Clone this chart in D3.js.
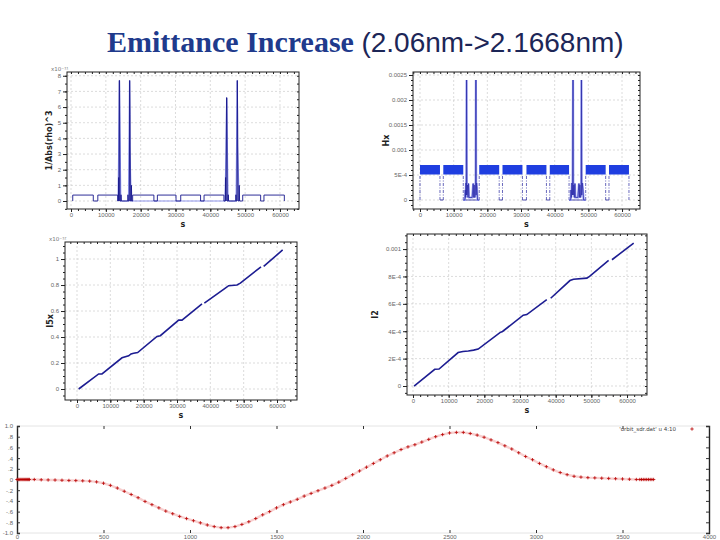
<!DOCTYPE html>
<html>
<head>
<meta charset="utf-8">
<style>
body { margin: 0; background: #fff; }
svg { display: block; font-family: "DejaVu Sans", sans-serif; }
.tick text { fill: #666; font-size: 6px; }
.lab { font-size: 8px; font-weight: bold; fill: #222; }
</style>
</head>
<body>
<script src="https://d3js.org/d3.v7.min.js"></script>
<script>
const W = 720, H = 540;

// shared s ticks for the four lattice plots
const sTicks = [0, 10000, 20000, 30000, 40000, 50000, 60000];
const sTickLabels = ["0", "10000", "20000", "30000", "40000", "50000", "60000"];

// 1/Abs(rho)^3 along s (x10^-11)
const rhoS = [500, 500, 6400, 6400, 7700, 7700, 13400, 13400, 13600, 13700, 13800, 13850, 13950, 14050, 14300, 14350, 14450, 16300, 16350, 16450, 16750, 16850, 16950, 17050, 17250, 17350, 17450, 17700, 17700, 23800, 23800, 24800, 24800, 30150, 30150, 31500, 31500, 37200, 37200, 38200, 38200, 43900, 43900, 44300, 44400, 44500, 44650, 44750, 44850, 45100, 45150, 45250, 47300, 47350, 47450, 47650, 47750, 47850, 47950, 48200, 48300, 48400, 49300, 49300, 54450, 54450, 55400, 55400, 61250, 61250];
const rhoV = [0, 0.38, 0.38, 0, 0, 0.38, 0.38, 0, 0, 1.5, 0, 7.7, 7.7, 0, 0, 0.4, 0, 0, 0.4, 0, 0, 7.7, 5.5, 0, 0, 1.0, 0, 0, 0.38, 0.38, 0, 0, 0.38, 0.38, 0, 0, 0.38, 0.38, 0, 0, 0.38, 0.38, 0, 0, 1.5, 0, 6.6, 6.6, 0, 0, 0.4, 0, 0, 0.4, 0, 0, 7.7, 5.5, 0, 0, 1.0, 0, 0, 0.38, 0.38, 0, 0, 0.38, 0.38, 0];
// the lighter, wider spike trace
const rhoHaloS = [13500, 13700, 13900, 14300, 16500, 16800, 16900, 17300, 44200, 44500, 44700, 45100, 47400, 47700, 47800, 48300];
const rhoHaloV = [0, 3.5, 7.7, 0, 0, 7.7, 3.5, 0, 0, 3.0, 6.6, 0, 0, 7.7, 3.5, 0];
const rhoTicks = [0, 1, 2, 3, 4, 5, 6, 7, 8];

// Hx along s
const hxBandStart = [0, 6920, 17590, 24500, 31620, 38540, 49210, 56130];
const hxBandEnd = [5930, 12850, 23520, 30430, 37550, 44270, 55140, 62060];
const hxBandLow = 0.00051, hxBandHigh = 0.0007;
const hxSpikeS = [12850, 13350, 13450, 13550, 13650, 13750, 13830, 13910, 14100, 14250, 14400, 14550, 15500, 15800, 15950, 16100, 16250, 16400, 16520, 16600, 16680, 16800, 16950, 17100, 17590];
const hxSpikeV = [0, 0, 0.0002, 0.00005, 0.00034, 0.0001, 0.0024, 0.0001, 0.0003, 0.00005, 0.00033, 0.00005, 0.00005, 0.00033, 0.00005, 0.0003, 0.00005, 0.0001, 0.00034, 0.0024, 0.0001, 0.00034, 0.0002, 0, 0];
const hxSpike2S = [44270, 44750, 44850, 44950, 45100, 45300, 45450, 45530, 45700, 45850, 46000, 46150, 46900, 47200, 47350, 47500, 47650, 47800, 47880, 47950, 48030, 48200, 48400, 48600, 49210];
const hxSpike2V = [0, 0, 0.0002, 0.00005, 0.00034, 0.0001, 0.0024, 0.0001, 0.0003, 0.00005, 0.00033, 0.00005, 0.00005, 0.00033, 0.00005, 0.0003, 0.00005, 0.0001, 0.00034, 0.0024, 0.0001, 0.00034, 0.0002, 0, 0];
const hxTicks = [0, 0.0005, 0.001, 0.0015, 0.002, 0.0025];
const hxTickLabels = ["0", "5E-4", "0.001", "0.0015", "0.002", "0.0025"];

// I5x running integral (x10^-12), null = gap in the trace
const i5S = [500, 6500, 7500, 13500, 15500, 16200, 17000, 18200, 24000, 25000, 30500, 31500, 37500, null, 38200, 44500, 45500, 48000, 49000, 55200, null, 56000, 61700];
const i5V = [0, 0.116, 0.116, 0.24, 0.255, 0.27, 0.275, 0.28, 0.404, 0.41, 0.53, 0.53, 0.655, null, 0.66, 0.776, 0.795, 0.80, 0.815, 0.94, null, 0.943, 1.07];
const i5Ticks = [0, 0.2, 0.4, 0.6, 0.8, 1];
const i5TickLabels = ["0", "0.2", "0.4", "0.6", "0.8", "1"];

// I2 running integral
const i2S = [300, 6100, 7300, 12650, 14000, 15500, 17000, 18280, 24370, 25100, 30900, 31900, 37500, null, 38600, 44000, 45000, 48750, 49500, 54840, null, 55780, 61870];
const i2V = [0, 0.000122, 0.000124, 0.000244, 0.000252, 0.000256, 0.000262, 0.00027, 0.00039, 0.000398, 0.000517, 0.000522, 0.00063, null, 0.000641, 0.00077, 0.00078, 0.000788, 0.0008, 0.000917, null, 0.000922, 0.001044];
const i2Ticks = [0, 0.0002, 0.0004, 0.0006, 0.0008, 0.001];
const i2TickLabels = ["0", "2E-4", "4E-4", "6E-4", "8E-4", "0.001"];

// orbit_sdr.dat u 4:10
const orbitS = [0, 6, 12, 18, 24, 30, 36, 42, 48, 54, 60, 66, 72, 100,
  140, 180, 220, 260, 300, 340, 380, 420, 460, 500, 540, 580, 620, 660, 700, 740, 780, 820, 860, 900,
  940, 980, 1020, 1060, 1100, 1140, 1180, 1220, 1260, 1300, 1340, 1380, 1420, 1460, 1500, 1540, 1580,
  1620, 1660, 1700, 1740, 1780, 1820, 1860, 1900, 1940, 1980, 2020, 2060, 2100, 2140, 2180, 2220, 2260,
  2300, 2340, 2380, 2420, 2460, 2500, 2540, 2580, 2620, 2660, 2700, 2740, 2780, 2820, 2860, 2900, 2940,
  2980, 3020, 3060, 3100, 3140, 3180, 3220, 3260, 3300, 3340, 3380, 3420, 3460, 3500, 3540, 3580,
  3600, 3610, 3620, 3630, 3640, 3650, 3660, 3670, 3680];
const orbitY = [0, 0, 0, 0, 0, 0, 0, 0, 0, 0, 0, 0, 0, 0,
  -0.005, -0.008, -0.01, -0.014, -0.018, -0.02, -0.025, -0.03, -0.045, -0.07, -0.11, -0.16, -0.22, -0.28, -0.34, -0.41, -0.47, -0.53, -0.59, -0.64,
  -0.69, -0.73, -0.77, -0.81, -0.85, -0.88, -0.9, -0.9, -0.88, -0.84, -0.79, -0.73, -0.66, -0.6, -0.53, -0.47, -0.42,
  -0.37, -0.31, -0.26, -0.21, -0.16, -0.11, -0.05, 0.02, 0.09, 0.16, 0.23, 0.3, 0.37, 0.44, 0.5, 0.56, 0.61,
  0.65, 0.7, 0.75, 0.8, 0.84, 0.87, 0.88, 0.88, 0.86, 0.83, 0.79, 0.74, 0.69, 0.63, 0.57, 0.5, 0.43,
  0.37, 0.3, 0.24, 0.18, 0.13, 0.09, 0.06, 0.045, 0.035, 0.03, 0.025, 0.02, 0.015, 0.01, 0.005, 0,
  0, 0, 0, 0, 0, 0, 0, 0, 0];
const orbitXTicks = [0, 500, 1000, 1500, 2000, 2500, 3000, 3500, 4000];
const orbitYTicks = [1, 0.8, 0.6, 0.4, 0.2, 0, -0.2, -0.4, -0.6, -0.8, -1];
const orbitYTickLabels = ["1.0", ".8", ".6", ".4", ".2", "0", "-.2", "-.4", "-.6", "-.8", "-1.0"];

const svg = d3.select("body").append("svg")
  .attr("width", W)
  .attr("height", H);

// title
const title = svg.append("text").attr("x", 107).attr("y", 52);
title.append("tspan")
  .attr("font-family", "Liberation Serif, serif")
  .attr("font-weight", "bold")
  .attr("font-size", 30)
  .attr("fill", "#203a8c")
  .text("Emittance Increase ");
title.append("tspan")
  .attr("font-family", "Liberation Sans, sans-serif")
  .attr("font-size", 28)
  .attr("fill", "#1c2657")
  .text("(2.06nm->2.1668nm)");

function drawPanel(p) {
  const x = d3.scaleLinear().domain(p.xDomain).range([p.left, p.right]);
  const y = d3.scaleLinear().domain(p.yDomain).range([p.bottom, p.top]);
  const g = svg.append("g");

  g.selectAll(".vg").data(p.xTicks).join("line")
    .attr("x1", d => x(d)).attr("x2", d => x(d))
    .attr("y1", p.top).attr("y2", p.bottom)
    .attr("stroke", "#c4c4c4").attr("stroke-width", 0.6).attr("stroke-dasharray", "2,2");
  g.selectAll(".hg").data(p.yTicks).join("line")
    .attr("x1", p.left).attr("x2", p.right)
    .attr("y1", d => y(d)).attr("y2", d => y(d))
    .attr("stroke", "#c4c4c4").attr("stroke-width", 0.6).attr("stroke-dasharray", "2,2");

  const inX = d3.range(-10000, 70000, 2000).filter(d => d > p.xDomain[0] && d < p.xDomain[1]);
  const inY = d3.range(p.yDomain[0] - p.yMinor, p.yDomain[1], p.yMinor)
    .map(d => Math.round(d / p.yMinor) * p.yMinor)
    .filter(d => d > p.yDomain[0] && d < p.yDomain[1]);
  const clean = sel => sel.select(".domain").remove();

  g.append("g").attr("transform", `translate(0,${p.bottom})`)
    .call(d3.axisBottom(x).tickValues(inX).tickSize(2).tickFormat("")).call(clean);
  g.append("g").attr("transform", `translate(0,${p.bottom})`)
    .call(d3.axisBottom(x).tickValues(p.xTicks).tickSize(3).tickPadding(1)
      .tickFormat((d, i) => p.xLabels[i])).call(clean);
  g.append("g").attr("transform", `translate(${p.left},0)`)
    .call(d3.axisLeft(y).tickValues(inY).tickSize(2).tickFormat("")).call(clean);
  g.append("g").attr("transform", `translate(${p.left},0)`)
    .call(d3.axisLeft(y).tickValues(p.yTicks).tickSize(4).tickPadding(2)
      .tickFormat((d, i) => p.yLabels[i])).call(clean);
  g.append("g").attr("transform", `translate(0,${p.top})`)
    .call(d3.axisTop(x).tickValues(inX).tickSize(-2).tickFormat("")).call(clean);
  g.append("g").attr("transform", `translate(${p.right},0)`)
    .call(d3.axisRight(y).tickValues(inY).tickSize(-2).tickFormat("")).call(clean);
  g.selectAll(".tick line").attr("stroke", "#222");

  g.append("rect")
    .attr("x", p.left).attr("y", p.top)
    .attr("width", p.right - p.left).attr("height", p.bottom - p.top)
    .attr("fill", "none").attr("stroke", "#222").attr("stroke-width", 1);

  g.append("text").attr("class", "lab")
    .attr("x", (p.left + p.right) / 2).attr("y", p.bottom + 18)
    .attr("text-anchor", "middle").text("s");
  g.append("text").attr("class", "lab")
    .attr("transform", `translate(${p.yLabelX},${(p.top + p.bottom) / 2}) rotate(-90)`)
    .attr("text-anchor", "middle").text(p.yTitle);
  if (p.expo) {
    g.append("text").attr("x", p.left - 16).attr("y", p.top - 1)
      .attr("font-size", 5.5).attr("fill", "#777").text(p.expo);
  }
  return { x, y, g };
}

function linePath(x, y, S, V) {
  return d3.line()
    .defined(i => S[i] !== null)
    .x(i => x(S[i]))
    .y(i => y(V[i]))(d3.range(S.length));
}

// panel 1: 1/Abs(rho)^3
const pA = drawPanel({
  left: 67, right: 299, top: 72, bottom: 209,
  xDomain: [-1150, 65460], yDomain: [-0.51, 8.24],
  xTicks: sTicks, xLabels: sTickLabels,
  yTicks: rhoTicks, yLabels: rhoTicks.map(String), yMinor: 0.5,
  yTitle: "1/Abs(rho)^3", yLabelX: 52, expo: "x10\u207B\u00B9\u00B9"
});
pA.g.append("path").attr("d", linePath(pA.x, pA.y, rhoHaloS, rhoHaloV))
  .attr("fill", "#b8bdf4").attr("fill-opacity", 0.6)
  .attr("stroke", "#8f96ec").attr("stroke-width", 1.2);
pA.g.append("path").attr("d", linePath(pA.x, pA.y, rhoS, rhoV))
  .attr("fill", "none").attr("stroke", "#17178c").attr("stroke-width", 0.9);

// panel 2: Hx
const pB = drawPanel({
  left: 413, right: 640, top: 72, bottom: 209,
  xDomain: [-2080, 65340], yDomain: [-0.00018, 0.00256],
  xTicks: sTicks, xLabels: sTickLabels,
  yTicks: hxTicks, yLabels: hxTickLabels, yMinor: 0.0001,
  yTitle: "Hx", yLabelX: 389
});
const bandIdx = d3.range(hxBandStart.length);
// zero-level trace between the dispersion blocks
pB.g.selectAll(".gap").data(bandIdx.slice(0, -1)).join("line")
  .attr("x1", i => pB.x(hxBandEnd[i])).attr("x2", i => pB.x(hxBandStart[i + 1]))
  .attr("y1", pB.y(0)).attr("y2", pB.y(0))
  .attr("stroke", "#22229a").attr("stroke-width", 0.8);
pB.g.selectAll(".edge").data(bandIdx.flatMap(i => [hxBandStart[i], hxBandEnd[i]])).join("line")
  .attr("x1", d => pB.x(d)).attr("x2", d => pB.x(d))
  .attr("y1", pB.y(0)).attr("y2", pB.y(hxBandLow))
  .attr("stroke", "#2a2aa0").attr("stroke-width", 0.7).attr("stroke-dasharray", "3,1.5,1,1.5");
pB.g.selectAll(".band").data(bandIdx).join("rect")
  .attr("x", i => pB.x(hxBandStart[i]))
  .attr("width", i => pB.x(hxBandEnd[i]) - pB.x(hxBandStart[i]))
  .attr("y", pB.y(hxBandHigh))
  .attr("height", pB.y(hxBandLow) - pB.y(hxBandHigh))
  .attr("fill", "#1f3ee0");
[[hxSpikeS, hxSpikeV], [hxSpike2S, hxSpike2V]].forEach(([S, V]) => {
  pB.g.append("path").attr("d", linePath(pB.x, pB.y, S, V))
    .attr("fill", "none").attr("stroke", "#9aa0f0").attr("stroke-width", 2.2);
  pB.g.append("path").attr("d", linePath(pB.x, pB.y, S, V))
    .attr("fill", "none").attr("stroke", "#2a2aa8").attr("stroke-width", 0.7);
});

// panel 3: I5x
const pC = drawPanel({
  left: 65, right: 297, top: 242, bottom: 400,
  xDomain: [-3600, 66000], yDomain: [-0.0846, 1.131],
  xTicks: sTicks, xLabels: sTickLabels,
  yTicks: i5Ticks, yLabels: i5TickLabels, yMinor: 0.05,
  yTitle: "I5x", yLabelX: 53, expo: "x10\u207B\u00B9\u00B2"
});
pC.g.append("path").attr("d", linePath(pC.x, pC.y, i5S, i5V))
  .attr("fill", "none").attr("stroke", "#1d1d92").attr("stroke-width", 1.6);

// panel 4: I2
const pD = drawPanel({
  left: 407, right: 647, top: 234, bottom: 395,
  xDomain: [-1680, 65600], yDomain: [-0.0000657, 0.00111],
  xTicks: sTicks, xLabels: sTickLabels,
  yTicks: i2Ticks, yLabels: i2TickLabels, yMinor: 0.00005,
  yTitle: "I2", yLabelX: 378
});
pD.g.append("path").attr("d", linePath(pD.x, pD.y, i2S, i2V))
  .attr("fill", "none").attr("stroke", "#1d1d92").attr("stroke-width", 1.6);

// panel 5: orbit
const oL = 17, oR = 709, oT = 426, oB = 533;
const ox = d3.scaleLinear().domain([0, 4000]).range([oL, oR]);
const oy = d3.scaleLinear().domain([-1, 1]).range([oB, oT]);
const og = svg.append("g");
og.append("line").attr("x1", oL).attr("x2", oR).attr("y1", oT).attr("y2", oT)
  .attr("stroke", "#ddd").attr("stroke-width", 0.8);
og.append("line").attr("x1", oL).attr("x2", oR).attr("y1", oB).attr("y2", oB)
  .attr("stroke", "#ddd").attr("stroke-width", 0.8);
og.append("g").attr("transform", `translate(${oL},0)`)
  .call(d3.axisLeft(oy).tickValues(orbitYTicks).tickSize(-3).tickPadding(4)
    .tickFormat((d, i) => orbitYTickLabels[i]))
  .call(s => s.select(".domain").attr("stroke", "#222").attr("stroke-width", 1.4));
og.append("g").attr("transform", `translate(${oR},0)`)
  .call(d3.axisRight(oy).tickValues(orbitYTicks).tickSize(-3).tickFormat(""))
  .call(s => s.select(".domain").attr("stroke", "#222").attr("stroke-width", 1.4));
og.append("g").attr("transform", `translate(0,${oT})`)
  .call(d3.axisTop(ox).tickValues(orbitXTicks).tickSize(-3).tickFormat(""))
  .call(s => s.select(".domain").remove());
og.append("g").attr("transform", `translate(0,${oB})`)
  .call(d3.axisBottom(ox).tickValues(orbitXTicks).tickSize(-3).tickPadding(1.5)
    .tickFormat(d3.format("d")))
  .call(s => s.select(".domain").remove());
og.selectAll(".tick line").attr("stroke", "#333");
og.selectAll(".tick text").attr("font-size", 5.5).attr("fill", "#555");

og.append("path").attr("d", linePath(ox, oy, orbitS, orbitY))
  .attr("fill", "none").attr("stroke", "#f3a8a8").attr("stroke-width", 2.4).attr("stroke-opacity", 0.55);
og.selectAll(".pt").data(d3.range(orbitS.length)).join("path")
  .attr("transform", i => `translate(${ox(orbitS[i])},${oy(orbitY[i])})`)
  .attr("d", "M-1.7,0H1.7M0,-1.7V1.7")
  .attr("stroke", "#b80000").attr("stroke-width", 0.8);

og.append("text").attr("x", 676).attr("y", 431)
  .attr("text-anchor", "end").attr("font-size", 5.5).attr("fill", "#444")
  .text("'orbit_sdr.dat' u 4:10");
og.append("path").attr("transform", "translate(692,429)")
  .attr("d", "M-1.7,0H1.7M0,-1.7V1.7")
  .attr("stroke", "#b80000").attr("stroke-width", 0.8);
</script>
</body>
</html>
